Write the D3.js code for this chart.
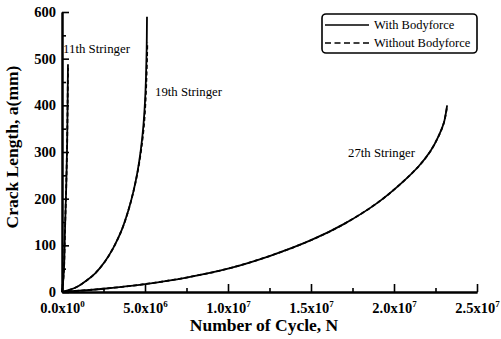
<!DOCTYPE html>
<html>
<head>
<meta charset="utf-8">
<script src="https://cdn.jsdelivr.net/npm/d3@7"></script>
<style>
  html, body { margin: 0; padding: 0; background: #fff; }
  svg { display: block; }
  text { font-family: "Liberation Serif", "DejaVu Serif", serif; fill: #000; }
</style>
</head>
<body>
<svg id="chart" width="501" height="339"></svg>
<script>
// Crack growth curves: cycles N vs crack length a (mm)
const n11With = [0, 0.05e6, 0.12e6, 0.18e6, 0.25e6, 0.31e6, 0.34e6, 0.36e6];
const a11With = [0, 15, 50, 133, 220, 320, 410, 488];
const n11Without = [0, 0.05e6, 0.12e6, 0.18e6, 0.25e6, 0.31e6, 0.34e6, 0.36e6];
const a11Without = [0, 15, 50, 133, 220, 320, 410, 480];

const n19With = [0, 0.5e6, 1.0e6, 1.5e6, 2.0e6, 2.6e6, 3.1e6, 3.6e6, 4.0e6, 4.3e6, 4.55e6, 4.75e6, 4.9e6, 5.0e6, 5.06e6, 5.1e6, 5.12e6];
const a19With = [0, 5, 13, 25, 40, 66, 95, 133, 175, 215, 258, 305, 355, 408, 460, 520, 590];
const n19Without = [0, 0.5e6, 1.0e6, 1.5e6, 2.0e6, 2.6e6, 3.1e6, 3.6e6, 4.0e6, 4.3e6, 4.56e6, 4.77e6, 4.93e6, 5.03e6, 5.09e6, 5.125e6, 5.14e6];
const a19Without = [0, 5, 13, 25, 40, 66, 95, 133, 175, 215, 258, 305, 355, 408, 460, 505, 535];

const n27With = [0, 2.5e6, 5.0e6, 7.5e6, 10.0e6, 12.5e6, 15.0e6, 17.0e6, 19.0e6, 20.5e6, 21.5e6, 22.2e6, 22.7e6, 23.0e6, 23.2e6];
const a27With = [0, 7, 17, 31, 50, 77, 111, 146, 191, 235, 270, 302, 335, 362, 400];
const n27Without = [0, 2.5e6, 5.0e6, 7.5e6, 10.0e6, 12.5e6, 15.0e6, 17.0e6, 19.0e6, 20.5e6, 21.5e6, 22.2e6, 22.7e6, 23.0e6, 23.2e6];
const a27Without = [0, 7, 17, 31, 50, 77, 111, 146, 191, 235, 270, 302, 335, 362, 398];

const xMajorTicks = [0, 5e6, 10e6, 15e6, 20e6, 25e6];
const xMinorTicks = [2.5e6, 7.5e6, 12.5e6, 17.5e6, 22.5e6];
const xTickMantissa = ["0.0", "5.0", "1.0", "1.5", "2.0", "2.5"];
const xTickExponent = ["0", "6", "7", "7", "7", "7"];
const yMajorTicks = [0, 100, 200, 300, 400, 500, 600];
const yMinorTicks = [50, 150, 250, 350, 450, 550];

const stringerNames = ["11th Stringer", "19th Stringer", "27th Stringer"];
const legendNames = ["With Bodyforce", "Without Bodyforce"];

const svg = d3.select("#chart");
const x = d3.scaleLinear().domain([0, 25e6]).range([62, 477]);
const y = d3.scaleLinear().domain([0, 600]).range([292, 12]);

// Axes: ticks point into the plot area
const yAxis = d3.axisLeft(y).tickValues(yMajorTicks).tickSizeInner(-7).tickSizeOuter(0).tickPadding(6);
const yMinor = d3.axisLeft(y).tickValues(yMinorTicks).tickSizeInner(-4).tickSizeOuter(0).tickFormat("");
const xAxis = d3.axisBottom(x).tickValues(xMajorTicks).tickSizeInner(-8).tickSizeOuter(0).tickPadding(8).tickFormat("");
const xMinor = d3.axisBottom(x).tickValues(xMinorTicks).tickSizeInner(-4).tickSizeOuter(0).tickFormat("");

function styleAxis(g) {
  g.selectAll("path.domain").attr("stroke", "#000").attr("stroke-width", 2);
  g.selectAll(".tick line").attr("stroke", "#000").attr("stroke-width", 1.6);
}

const gy = svg.append("g").attr("transform", "translate(62,0)").call(yAxis).call(styleAxis);
gy.selectAll(".tick text").attr("font-size", 14.5).attr("font-weight", "bold")
  .attr("font-family", "Liberation Serif, serif").attr("fill", "#000");
svg.append("g").attr("transform", "translate(62,0)").call(yMinor).call(styleAxis);

const gx = svg.append("g").attr("transform", "translate(0,292)").call(xAxis).call(styleAxis);
svg.append("g").attr("transform", "translate(0,292)").call(xMinor).call(styleAxis);

gx.selectAll(".tick text").each(function(d, i) {
  const t = d3.select(this)
    .attr("font-size", 14.5).attr("font-weight", "bold")
    .attr("font-family", "Liberation Serif, serif").attr("fill", "#000")
    .attr("dy", "0.9em");
  t.text(null);
  t.append("tspan").text(xTickMantissa[i] + "x10");
  t.append("tspan").attr("font-size", 9).attr("dy", "-0.7em").text(xTickExponent[i]);
});

// Axis titles
svg.append("text")
  .attr("x", 264).attr("y", 331)
  .attr("text-anchor", "middle").attr("font-size", 17.5).attr("font-weight", "bold")
  .text("Number of Cycle, N");
svg.append("text")
  .attr("transform", "translate(18,147) rotate(-90)")
  .attr("text-anchor", "middle").attr("font-size", 17.5).attr("font-weight", "bold")
  .text("Crack Length, a(mm)");

// Curves
const line = d3.line().x(d => x(d[0])).y(d => y(d[1])).curve(d3.curveCatmullRom.alpha(0.5));
const zip = (ns, as) => ns.map((n, i) => [n, as[i]]);

const withoutSeries = [zip(n11Without, a11Without), zip(n19Without, a19Without), zip(n27Without, a27Without)];
const withSeries = [zip(n11With, a11With), zip(n19With, a19With), zip(n27With, a27With)];

svg.append("g").selectAll("path").data(withoutSeries).join("path")
  .attr("d", line).attr("fill", "none").attr("stroke", "#000")
  .attr("stroke-width", 1.8).attr("stroke-dasharray", "4,2.5");
svg.append("g").selectAll("path").data(withSeries).join("path")
  .attr("d", line).attr("fill", "none").attr("stroke", "#000")
  .attr("stroke-width", 1.8);

// Stringer labels
const labelPos = [[63, 53], [155, 96], [348, 157]];
svg.append("g").selectAll("text").data(stringerNames).join("text")
  .attr("x", (d, i) => labelPos[i][0]).attr("y", (d, i) => labelPos[i][1])
  .attr("font-size", 13).attr("textLength", 67).attr("lengthAdjust", "spacingAndGlyphs")
  .text(d => d);

// Legend
const lg = svg.append("g");
lg.append("rect").attr("x", 322).attr("y", 14).attr("width", 155).attr("height", 39)
  .attr("rx", 4).attr("fill", "#fff").attr("stroke", "#000").attr("stroke-width", 1.6);
legendNames.forEach((name, i) => {
  const ly = 25 + i * 18;
  lg.append("line").attr("x1", 325).attr("x2", 369).attr("y1", ly).attr("y2", ly)
    .attr("stroke", "#000").attr("stroke-width", 1.6)
    .attr("stroke-dasharray", i === 1 ? "6,3.5" : null);
  lg.append("text").attr("x", 374).attr("y", ly + 4).attr("font-size", 12.5).text(name);
});
</script>
</body>
</html>
